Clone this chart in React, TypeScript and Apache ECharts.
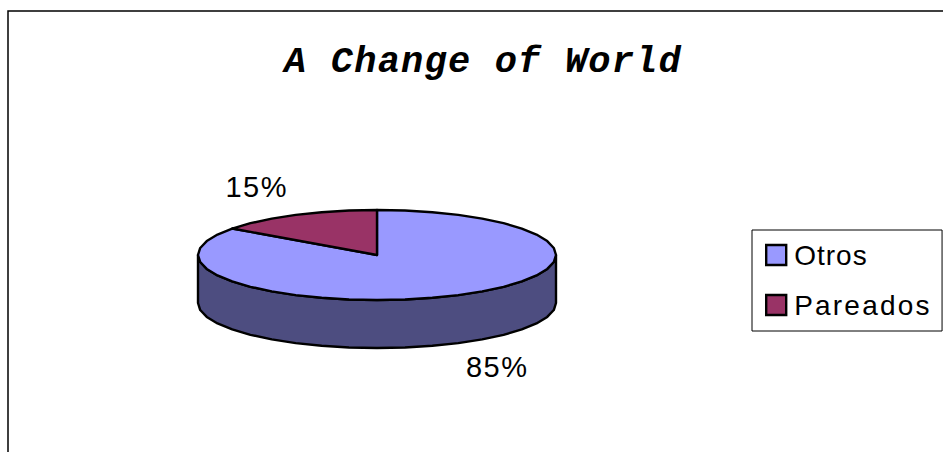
import React, { useEffect, useRef } from "react";
import * as echarts from "echarts";

const categories = ["Otros", "Pareados"];
const shareValues = [85, 15];
const percentLabels = ["85%", "15%"];
const sliceColors = ["#9999FF", "#993366"];
const sideColor = "#4D4D80";
const titleText = "A Change of World";

const CX = 377;
const CY = 255;
const RX = 179;
const RY = 45;
const DEPTH = 48;
const STEP = (9 * Math.PI) / 180;
const total = shareValues.reduce((a, b) => a + b, 0);

const pt = (a: number, dy = 0): number[] => [
  CX + RX * Math.sin(a),
  CY - RY * Math.cos(a) + dy,
];

const arcPoints = (a0: number, a1: number, dy = 0): number[][] => {
  const out: number[][] = [];
  const n = Math.max(1, Math.round(Math.abs(a1 - a0) / STEP));
  for (let i = 0; i <= n; i++) out.push(pt(a0 + ((a1 - a0) * i) / n, dy));
  return out;
};

const stroke = { stroke: "#000", lineWidth: 2.4, lineJoin: "round" };

const makeSeries = (index: number) => {
  const before = shareValues.slice(0, index).reduce((a, b) => a + b, 0);
  return {
    type: "custom",
    name: categories[index],
    coordinateSystem: "none",
    silent: true,
    itemStyle: { color: sliceColors[index] },
    data: [shareValues[index]],
    renderItem: (_p: any, api: any) => {
      const v = api.value(0);
      const a0 = (before / total) * Math.PI * 2;
      const a1 = ((before + v) / total) * Math.PI * 2;
      const mid = (a0 + a1) / 2;
      const children: any[] = [];
      const sideFrom = Math.max(a0, Math.PI / 2);
      const sideTo = Math.min(a1, (3 * Math.PI) / 2);
      if (sideTo > sideFrom) {
        const upper = arcPoints(sideFrom, sideTo);
        const lower = arcPoints(sideTo, sideFrom, DEPTH);
        children.push({
          type: "polygon",
          shape: { points: [...upper, ...lower] },
          style: { fill: sideColor, ...stroke },
        });
      }
      children.push({
        type: "polygon",
        shape: { points: [[CX, CY], ...arcPoints(a0, a1)] },
        style: { fill: sliceColors[index], ...stroke },
      });
      const lower = Math.cos(mid) < 0;
      children.push({
        type: "text",
        style: {
          text: percentLabels[index],
          x: CX + 1.48 * RX * Math.sin(mid),
          y: CY - 1.7 * RY * Math.cos(mid) + (lower ? DEPTH - 4 : 0),
          align: "center",
          verticalAlign: "middle",
          fill: "#000",
          font: '29px "Liberation Sans", Arial, sans-serif',
        },
      });
      return { type: "group", children };
    },
  };
};

export default function App() {
  const ref = useRef<HTMLDivElement>(null);
  useEffect(() => {
    const chart = echarts.init(ref.current!, null, { renderer: "svg" });
    chart.setOption({
      animation: false,
      backgroundColor: "#fff",
      title: {
        text: titleText,
        left: 478,
        top: 38,
        textAlign: "center",
        textStyle: {
          fontFamily: '"Liberation Mono", "Courier New", monospace',
          fontSize: 37,
          fontWeight: "bold",
          fontStyle: "italic",
          color: "#000",
        },
      },
      legend: {
        orient: "vertical",
        left: 752,
        top: 230,
        padding: [11, 28, 12, 13],
        itemWidth: 20,
        itemHeight: 20,
        itemGap: 22,
        icon: "rect",
        borderColor: "#000",
        borderWidth: 1,
        backgroundColor: "#fff",
        selectedMode: false,
        data: categories.map((name, i) => ({
          name,
          itemStyle: { color: sliceColors[i], borderColor: "#000", borderWidth: 2.4 },
        })),
        textStyle: {
          fontFamily: '"Liberation Sans", Arial, sans-serif',
          fontSize: 28,
          color: "#000",
          padding: [0, 0, 4, 3],
        },
      },
      graphic: [
        {
          type: "rect",
          z: -10,
          shape: { x: 8, y: 11, width: 960, height: 470 },
          style: { fill: "#fff", stroke: "#000", lineWidth: 1.5 },
        },
      ],
      series: categories.map((_, i) => makeSeries(i)),
    });
    const spacing = (t: string) => {
      if (t === titleText) return "1.2px";
      if (categories.includes(t)) return t === "Otros" ? "1px" : "2.2px";
      if (percentLabels.includes(t)) return "1.5px";
      return "";
    };
    ref.current!.querySelectorAll("text").forEach((el) => {
      const s = spacing((el.textContent || "").trim());
      if (s) (el as any).style.letterSpacing = s;
    });
    return () => chart.dispose();
  }, []);
  return (
    <div
      ref={ref}
      style={{ position: "fixed", left: 0, top: 0, width: 943, height: 452 }}
    />
  );
}
